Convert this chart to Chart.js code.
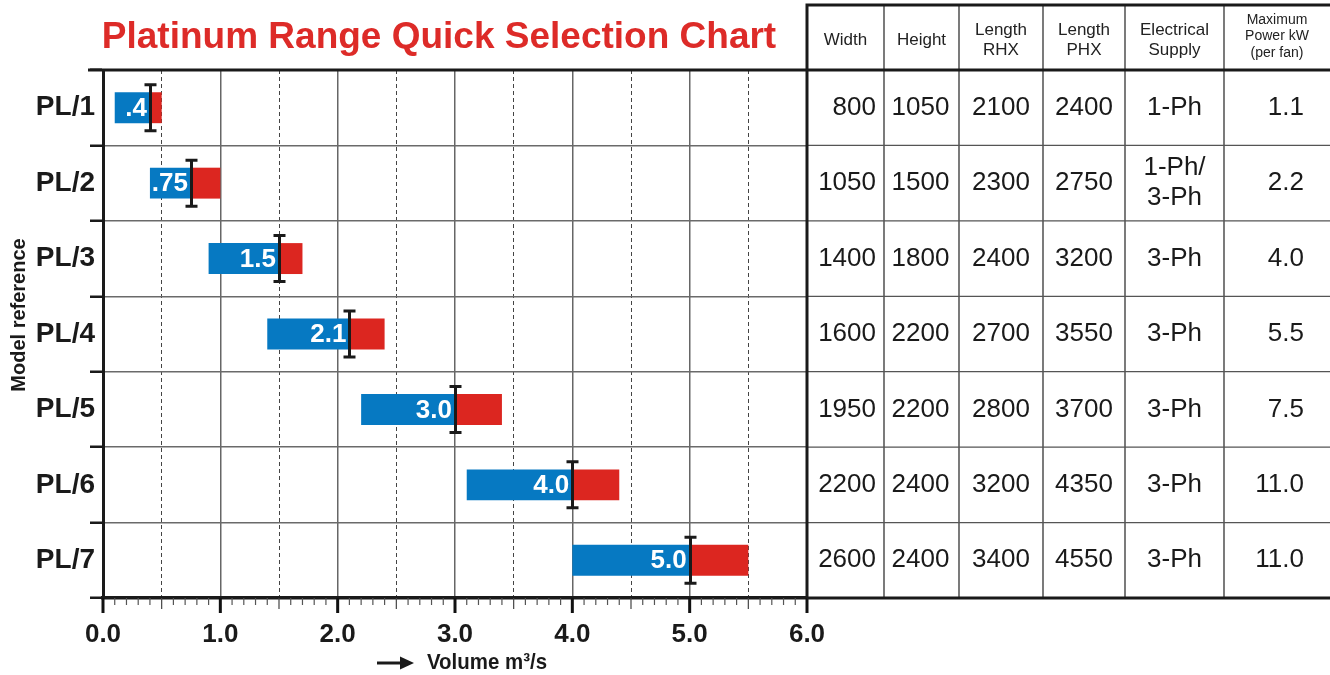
<!DOCTYPE html>
<html><head><meta charset="utf-8">
<script src="https://cdn.jsdelivr.net/npm/chart.js@4/dist/chart.umd.min.js"></script>
<style>html,body{margin:0;padding:0;background:#fff;}#wrap{width:1330px;height:675px;position:relative;}</style>
</head><body><div id="wrap"><canvas id="c" width="1330" height="675"></canvas></div>
<script>
// ---- data ----
const models = ['PL/1','PL/2','PL/3','PL/4','PL/5','PL/6','PL/7'];
const minVolume = [0.1, 0.4, 0.9, 1.4, 2.2, 3.1, 4.0];
const nominalVolume = [0.4, 0.75, 1.5, 2.1, 3.0, 4.0, 5.0];
const maxVolume = [0.5, 1.0, 1.7, 2.4, 3.4, 4.4, 5.5];
const nominalLabels = ['.4', '.75', '1.5', '2.1', '3.0', '4.0', '5.0'];
const xTickLabels = ['0.0', '1.0', '2.0', '3.0', '4.0', '5.0', '6.0'];
const tableHeaders = [['Width'], ['Height'], ['Length', 'RHX'], ['Length', 'PHX'], ['Electrical', 'Supply'], ['Maximum', 'Power kW', '(per fan)']];
const widths = ['800', '1050', '1400', '1600', '1950', '2200', '2600'];
const heights = ['1050', '1500', '1800', '2200', '2200', '2400', '2400'];
const lengthRHX = ['2100', '2300', '2400', '2700', '2800', '3200', '3400'];
const lengthPHX = ['2400', '2750', '3200', '3550', '3700', '4350', '4550'];
const supply = [['1-Ph'], ['1-Ph/', '3-Ph'], ['3-Ph'], ['3-Ph'], ['3-Ph'], ['3-Ph'], ['3-Ph']];
const power = ['1.1', '2.2', '4.0', '5.5', '7.5', '11.0', '11.0'];
const titleText = 'Platinum Range Quick Selection Chart';
const xTitle = 'Volume m³/s';
const yTitle = 'Model reference';

// ---- styles ----
const BLUE = '#0679c2', RED = '#dc2620', INK = '#1a1a1a';
const NARROW = "'Liberation Sans Narrow', 'Arial Narrow', 'Liberation Sans', Arial, sans-serif";
const SANS = "'Liberation Sans', Arial, sans-serif";
const tenth = v => Math.round(v * 10);

const decor = {
  id: 'decor',
  afterDatasetsDraw(chart) {
    const c = chart.ctx, xs = chart.scales.x, ys = chart.scales.y;
    c.save();
    // nominal labels
    c.fillStyle = '#fff';
    c.font = 'bold 26px ' + NARROW;
    c.textAlign = 'right'; c.textBaseline = 'middle';
    nominalVolume.forEach((v, i) => {
      c.fillText(nominalLabels[i], xs.getPixelForValue(v) - 3, ys.getPixelForValue(i) + 1);
    });
    // I-beam markers
    c.strokeStyle = INK; c.lineWidth = 3;
    nominalVolume.forEach((v, i) => {
      const x = Math.round(xs.getPixelForValue(v)) + 0.5, y = ys.getPixelForValue(i);
      c.beginPath();
      c.moveTo(x, y - 23); c.lineTo(x, y + 23);
      c.moveTo(x - 6, y - 23); c.lineTo(x + 6, y - 23);
      c.moveTo(x - 6, y + 23); c.lineTo(x + 6, y + 23);
      c.stroke();
    });
    c.restore();
  },
  afterDraw(chart) {
    const c = chart.ctx, xs = chart.scales.x, ys = chart.scales.y, a = chart.chartArea;
    c.save();
    // x-axis tick marks
    xs.ticks.forEach(t => {
      const r = tenth(t.value), x = xs.getPixelForValue(t.value);
      const major = r % 10 === 0, half = r % 5 === 0;
      c.strokeStyle = major ? '#111' : (half ? '#444' : '#555');
      c.lineWidth = major ? 3 : 1.2;
      c.beginPath();
      c.moveTo(x, a.bottom); c.lineTo(x, a.bottom + (major ? 15 : half ? 11 : 7));
      c.stroke();
    });
    // table
    const cols = [a.right, 884, 959, 1043, 1125, 1224, 1330];
    const rowH = (a.bottom - a.top) / models.length;
    c.strokeStyle = '#222'; c.lineWidth = 1.2;
    for (let k = 1; k < cols.length - 1; k++) {
      c.beginPath(); c.moveTo(cols[k], 5); c.lineTo(cols[k], a.bottom); c.stroke();
    }
    c.strokeStyle = '#555';
    for (let k = 1; k < models.length; k++) {
      const y = a.top + k * rowH;
      c.beginPath(); c.moveTo(a.right, y); c.lineTo(1330, y); c.stroke();
    }
    c.strokeStyle = INK; c.lineWidth = 3;
    c.beginPath();
    c.moveTo(a.right, 3.5); c.lineTo(a.right, a.bottom);
    c.moveTo(a.right - 1.5, 5); c.lineTo(1330, 5);
    c.moveTo(88, a.top); c.lineTo(1330, a.top);
    c.moveTo(a.right, a.bottom); c.lineTo(1330, a.bottom);
    c.stroke();
    // headers
    c.fillStyle = '#222'; c.textAlign = 'center'; c.textBaseline = 'middle';
    tableHeaders.forEach((lines, k) => {
      const cx = (cols[k] + cols[k + 1]) / 2;
      const small = lines.length > 2;
      c.font = (small ? '14px ' : '17px ') + SANS;
      const lh = small ? 16.5 : 20;
      const cy = small ? 36.5 : 40;
      lines.forEach((s, j) => c.fillText(s, cx, cy + (j - (lines.length - 1) / 2) * lh));
    });
    // rows
    c.fillStyle = INK; c.font = '26px ' + SANS;
    models.forEach((m, i) => {
      const cy = ys.getPixelForValue(i);
      c.textAlign = 'right'; c.fillText(widths[i], 876, cy);
      c.textAlign = 'center';
      c.fillText(heights[i], (cols[1] + cols[2]) / 2 - 1, cy);
      c.fillText(lengthRHX[i], (cols[2] + cols[3]) / 2, cy);
      c.fillText(lengthPHX[i], (cols[3] + cols[4]) / 2, cy);
      const sl = supply[i];
      sl.forEach((s, j) => c.fillText(s, (cols[4] + cols[5]) / 2, cy + (j - (sl.length - 1) / 2) * 30));
      c.textAlign = 'right'; c.fillText(power[i], 1304, cy);
    });
    // title
    c.fillStyle = '#dd2b28'; c.font = 'bold 37px ' + SANS;
    c.textAlign = 'center'; c.textBaseline = 'alphabetic';
    c.fillText(titleText, 439, 48, 680);
    // y title
    c.fillStyle = INK; c.font = 'bold 20px ' + SANS;
    c.save(); c.translate(19, 315); c.rotate(-Math.PI / 2);
    c.textAlign = 'center'; c.textBaseline = 'middle';
    c.fillText(yTitle, 0, 0);
    c.restore();
    // x title with arrow
    c.font = 'bold 22px ' + NARROW; c.textAlign = 'left'; c.textBaseline = 'middle';
    c.fillText(xTitle, 427, 663, 120);
    c.strokeStyle = INK; c.lineWidth = 3;
    c.beginPath(); c.moveTo(377, 663); c.lineTo(402, 663); c.stroke();
    c.beginPath(); c.moveTo(400, 656.5); c.lineTo(414, 663); c.lineTo(400, 669.5); c.closePath(); c.fill();
    c.restore();
  }
};

new Chart(document.getElementById('c'), {
  type: 'bar',
  data: {
    labels: models,
    datasets: [
      { label: 'Nominal', data: models.map((m, i) => [minVolume[i], nominalVolume[i]]), backgroundColor: BLUE,
        grouped: false, barPercentage: 0.41, categoryPercentage: 1, borderWidth: 0 },
      { label: 'Maximum', data: models.map((m, i) => [nominalVolume[i], maxVolume[i]]), backgroundColor: RED,
        grouped: false, barPercentage: 0.41, categoryPercentage: 1, borderWidth: 0 }
    ]
  },
  options: {
    indexAxis: 'y', responsive: false, animation: false, devicePixelRatio: 1,
    layout: { padding: { left: 0, right: 523, top: 70, bottom: 0 } },
    plugins: { legend: { display: false }, tooltip: { enabled: false }, title: { display: false } },
    scales: {
      x: {
        type: 'linear', min: 0, max: 6,
        afterBuildTicks: s => { s.ticks = Array.from({ length: 61 }, (_, i) => ({ value: i / 10 })); },
        afterFit: s => { s.height = 77; },
        ticks: {
          autoSkip: false, maxRotation: 0, minRotation: 0, padding: 7, color: INK,
          font: { family: NARROW, weight: 'bold', size: 26 },
          callback: v => { const r = tenth(v); return r % 10 === 0 ? xTickLabels[r / 10] : ''; }
        },
        grid: {
          color: ctx => { if (!ctx.tick) return 'rgba(0,0,0,0)'; const r = tenth(ctx.tick.value);
            return r % 10 === 0 ? '#666' : (r % 5 === 0 ? '#444' : 'rgba(0,0,0,0)'); },
          lineWidth: ctx => (ctx.tick && tenth(ctx.tick.value) % 10 === 0) ? 1.5 : 1,
          drawTicks: true, tickLength: 14, tickColor: 'rgba(0,0,0,0)'
        },
        border: { display: true, color: INK, width: 3.5,
          dash: ctx => (ctx.tick && tenth(ctx.tick.value) % 10 === 5) ? [4, 3] : [] }
      },
      y: {
        type: 'category',
        afterFit: s => { s.width = 103; },
        ticks: { color: INK, padding: -5, font: { family: NARROW, weight: 'bold', size: 28 } },
        grid: { offset: true, color: '#6a6a6a', lineWidth: 1.5, drawTicks: true, tickLength: 13, tickColor: INK, tickWidth: 2.5 },
        border: { display: true, color: INK, width: 3 }
      }
    }
  },
  plugins: [decor]
});
</script></body></html>
